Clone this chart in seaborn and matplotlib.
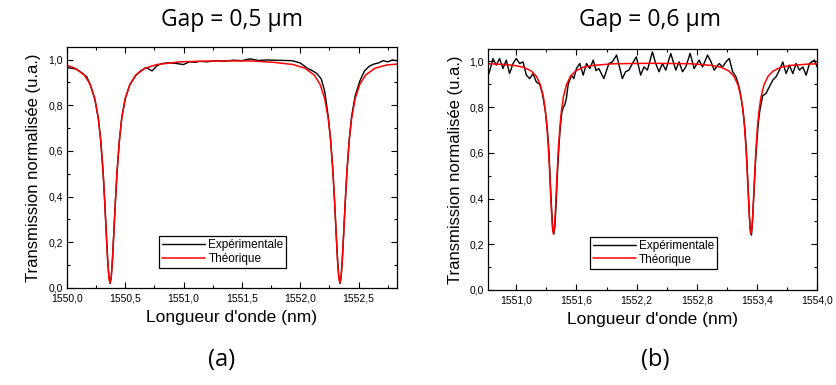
import numpy as np
import pandas as pd
import matplotlib
matplotlib.use("Agg")
import matplotlib.pyplot as plt
from matplotlib.ticker import MultipleLocator, FuncFormatter
import seaborn as sns

# ---- panel (a) : gap = 0,5 um ----
wl_exp_a = [1550.00, 1550.04, 1550.08, 1550.12, 1550.17, 1550.20, 1550.24, 1550.27, 1550.29,
            1550.31, 1550.325, 1550.34, 1550.35, 1550.36, 1550.37, 1550.38, 1550.39, 1550.40,
            1550.415, 1550.43, 1550.45, 1550.47, 1550.50, 1550.54, 1550.59, 1550.63, 1550.68,
            1550.73, 1550.77, 1550.81, 1550.86, 1550.92, 1551.00, 1551.05, 1551.10, 1551.14,
            1551.20, 1551.28, 1551.35, 1551.43, 1551.50, 1551.57, 1551.64, 1551.71, 1551.79,
            1551.86, 1551.93, 1552.00, 1552.06, 1552.10, 1552.14, 1552.18, 1552.21, 1552.24,
            1552.26, 1552.28, 1552.295, 1552.31, 1552.32, 1552.33, 1552.34, 1552.35, 1552.36,
            1552.37, 1552.385, 1552.40, 1552.42, 1552.44, 1552.47, 1552.51, 1552.55, 1552.59,
            1552.63, 1552.67, 1552.71, 1552.75, 1552.79, 1552.83]
tr_exp_a = [0.965, 0.962, 0.958, 0.945, 0.925, 0.89, 0.825, 0.74, 0.645,
            0.51, 0.37, 0.215, 0.12, 0.05, 0.02, 0.045, 0.12, 0.22,
            0.37, 0.51, 0.645, 0.745, 0.83, 0.89, 0.93, 0.95, 0.965,
            0.95, 0.972, 0.982, 0.985, 0.984, 0.978, 0.99, 0.988, 0.992,
            0.99, 0.995, 0.993, 0.997, 0.995, 1.003, 0.996, 0.998, 0.997,
            0.996, 0.995, 0.985, 0.962, 0.952, 0.94, 0.915, 0.86, 0.75,
            0.65, 0.51, 0.37, 0.215, 0.12, 0.05, 0.02, 0.05, 0.12,
            0.22, 0.37, 0.51, 0.65, 0.75, 0.84, 0.905, 0.95, 0.97,
            0.98, 0.985, 0.995, 0.99, 0.998, 0.995]

wl_th_a = [1550.00, 1550.07, 1550.15, 1550.20, 1550.24, 1550.27, 1550.29, 1550.31, 1550.325,
           1550.34, 1550.35, 1550.36, 1550.37, 1550.38, 1550.39, 1550.40, 1550.415, 1550.43,
           1550.45, 1550.47, 1550.50, 1550.54, 1550.59, 1550.67, 1550.77, 1550.97, 1551.17,
           1551.37, 1551.57, 1551.77, 1551.94, 1552.04, 1552.12, 1552.17, 1552.21, 1552.24,
           1552.26, 1552.28, 1552.295, 1552.31, 1552.32, 1552.33, 1552.34, 1552.35, 1552.36,
           1552.37, 1552.385, 1552.40, 1552.42, 1552.44, 1552.47, 1552.51, 1552.56, 1552.64,
           1552.74, 1552.85]
tr_th_a = [0.975, 0.962, 0.932, 0.891, 0.828, 0.741, 0.647, 0.51, 0.373,
           0.216, 0.118, 0.047, 0.02, 0.047, 0.118, 0.216, 0.373, 0.51,
           0.647, 0.741, 0.828, 0.891, 0.932, 0.962, 0.978, 0.99, 0.993,
           0.994, 0.994, 0.988, 0.978, 0.962, 0.932, 0.891, 0.828, 0.741,
           0.647, 0.51, 0.373, 0.216, 0.118, 0.047, 0.02, 0.047, 0.118,
           0.216, 0.373, 0.51, 0.647, 0.741, 0.828, 0.891, 0.932, 0.962,
           0.976, 0.981]

# ---- panel (b) : gap = 0,6 um ----
wl_exp_b = [1550.72, 1550.733, 1550.767, 1550.80, 1550.833, 1550.867, 1550.90, 1550.933, 1550.967,
            1551.00, 1551.033, 1551.067, 1551.10, 1551.133, 1551.167, 1551.20, 1551.233, 1551.26,
            1551.29, 1551.31, 1551.325, 1551.34, 1551.355, 1551.365, 1551.375, 1551.385, 1551.395,
            1551.41, 1551.425, 1551.44, 1551.455, 1551.47, 1551.483, 1551.50, 1551.517, 1551.55,
            1551.573, 1551.60, 1551.633, 1551.667, 1551.70, 1551.733, 1551.767, 1551.795, 1551.823,
            1551.873, 1551.923, 1551.957, 1552.00, 1552.057, 1552.09, 1552.123, 1552.157, 1552.197,
            1552.24, 1552.273, 1552.307, 1552.357, 1552.39, 1552.423, 1552.457, 1552.49, 1552.54,
            1552.59, 1552.623, 1552.657, 1552.69, 1552.733, 1552.773, 1552.823, 1552.857, 1552.907,
            1552.94, 1552.973, 1553.023, 1553.057, 1553.09, 1553.123, 1553.157, 1553.19, 1553.21,
            1553.23, 1553.26, 1553.28, 1553.295, 1553.31, 1553.325, 1553.335, 1553.345, 1553.355,
            1553.37, 1553.385, 1553.40, 1553.415, 1553.43, 1553.457, 1553.49, 1553.523, 1553.557,
            1553.59, 1553.623, 1553.657, 1553.69, 1553.723, 1553.757, 1553.79, 1553.823, 1553.857,
            1553.89, 1553.923, 1553.973, 1554.00]
tr_exp_b = [0.94, 0.955, 1.013, 0.984, 1.013, 0.969, 1.006, 0.947, 0.991,
            1.013, 0.991, 0.998, 0.94, 0.925, 0.947, 0.91, 0.90, 0.86,
            0.78, 0.70, 0.61, 0.46, 0.33, 0.26, 0.245, 0.28, 0.36,
            0.51, 0.63, 0.72, 0.78, 0.80, 0.81, 0.84, 0.90, 0.94,
            0.925, 0.969, 0.991, 0.94, 0.991, 0.969, 1.006, 0.96, 0.969,
            0.925, 0.991, 0.998, 1.028, 0.925, 0.955, 0.962, 0.991, 1.02,
            0.94, 0.976, 0.962, 1.042, 0.991, 0.955, 0.991, 0.962, 1.035,
            0.962, 0.998, 0.955, 0.976, 1.035, 0.969, 1.006, 0.976, 1.028,
            1.0, 0.962, 0.991, 0.976, 0.998, 1.013, 0.955, 0.933, 0.905,
            0.87, 0.79, 0.70, 0.60, 0.46, 0.32, 0.25, 0.24, 0.30,
            0.43, 0.56, 0.66, 0.74, 0.79, 0.85, 0.86, 0.889, 0.918,
            0.933, 0.962, 0.998, 0.947, 0.984, 0.947, 0.991, 0.962, 0.976,
            0.94, 0.991, 1.006, 0.976]

wl_th_b = [1550.72, 1550.87, 1550.97, 1551.07, 1551.15, 1551.20, 1551.24, 1551.27, 1551.29,
           1551.305, 1551.32, 1551.33, 1551.34, 1551.35, 1551.36, 1551.37, 1551.38, 1551.39,
           1551.40, 1551.41, 1551.42, 1551.435, 1551.45, 1551.47, 1551.50, 1551.54, 1551.59,
           1551.67, 1551.77, 1551.97, 1552.35, 1552.74, 1552.94, 1553.04, 1553.12, 1553.17,
           1553.21, 1553.24, 1553.26, 1553.275, 1553.29, 1553.30, 1553.31, 1553.32, 1553.33,
           1553.34, 1553.35, 1553.36, 1553.37, 1553.38, 1553.39, 1553.405, 1553.42, 1553.44,
           1553.47, 1553.51, 1553.56, 1553.64, 1553.74, 1553.90, 1554.00]
tr_th_b = [0.99, 0.987, 0.983, 0.975, 0.958, 0.935, 0.898, 0.845, 0.784,
           0.716, 0.62, 0.538, 0.444, 0.348, 0.274, 0.245, 0.274, 0.348,
           0.444, 0.538, 0.62, 0.716, 0.784, 0.845, 0.898, 0.935, 0.958,
           0.975, 0.983, 0.99, 0.992, 0.99, 0.983, 0.975, 0.958, 0.935,
           0.898, 0.845, 0.784, 0.716, 0.62, 0.538, 0.444, 0.348, 0.274,
           0.245, 0.274, 0.348, 0.444, 0.538, 0.62, 0.716, 0.784, 0.845,
           0.898, 0.935, 0.958, 0.975, 0.983, 0.988, 0.99]

titles = ["Gap = 0,5 µm", "Gap = 0,6 µm"]
panel_tags = ["(a)", "(b)"]
label_exp = "Expérimentale"
label_th = "Théorique"

sns.set_style("ticks")
narrow = ["Liberation Sans Narrow", "Liberation Sans", "DejaVu Sans"]
plt.rcParams["font.family"] = narrow
plt.rcParams["text.color"] = "black"
plt.rcParams["axes.labelcolor"] = "black"


def comma(v, pos):
    return f"{v:.1f}".replace(".", ",")


def make_panel(ax, wl_e, tr_e, wl_t, tr_t, xlim, xmajor, legend_xy):
    exp = pd.DataFrame({"wl": wl_e, "T": tr_e})
    th = pd.DataFrame({"wl": wl_t, "T": tr_t})
    sns.lineplot(data=exp, x="wl", y="T", ax=ax, color="black", lw=1.0, label=label_exp)
    sns.lineplot(data=th, x="wl", y="T", ax=ax, color="red", lw=1.1, label=label_th)
    ax.set_xlim(*xlim)
    ax.set_ylim(0, 1.055)
    ax.xaxis.set_major_locator(MultipleLocator(xmajor))
    ax.xaxis.set_minor_locator(MultipleLocator(xmajor / 2))
    ax.yaxis.set_major_locator(MultipleLocator(0.2))
    ax.yaxis.set_minor_locator(MultipleLocator(0.1))
    ax.xaxis.set_major_formatter(FuncFormatter(comma))
    ax.yaxis.set_major_formatter(FuncFormatter(comma))
    ax.tick_params(which="both", direction="in", top=True, right=True, width=0.8,
                   labelsize=7.5, colors="black")
    ax.tick_params(axis="x", pad=4)
    ax.tick_params(axis="y", pad=3)
    ax.tick_params(which="major", length=4)
    ax.tick_params(which="minor", length=2)
    for sp in ax.spines.values():
        sp.set_color("black")
        sp.set_linewidth(0.9)
    ax.set_xlabel("Longueur d'onde (nm)", fontsize=12.5, labelpad=5)
    ax.set_ylabel("Transmission normalisée (u.a.)", fontsize=12, labelpad=5)
    leg = ax.legend(loc="upper left", bbox_to_anchor=legend_xy, fontsize=8.5,
                    frameon=True, fancybox=False, edgecolor="black", framealpha=1,
                    handlelength=3.6, handletextpad=0.3, borderpad=0.25,
                    labelspacing=0.15, borderaxespad=0)
    leg.get_frame().set_linewidth(0.9)


fig = plt.figure(figsize=(8.36, 3.85), dpi=100)
ax_a = fig.add_axes([0.080, 0.252, 0.395, 0.626])
ax_b = fig.add_axes([0.584, 0.247, 0.3935, 0.626])

make_panel(ax_a, wl_exp_a, tr_exp_a, wl_th_a, tr_th_a, (1550.0, 1552.83), 0.5, (0.28, 0.216))
make_panel(ax_b, wl_exp_b, tr_exp_b, wl_th_b, tr_th_b, (1550.72, 1554.0), 0.6, (0.31, 0.22))

title_font = ["Open Sans", "DejaVu Sans"]
fig.text(232 / 836, 1 - 20 / 385, titles[0], ha="center", va="center", fontsize=16.5, family=title_font)
fig.text(650 / 836, 1 - 20 / 385, titles[1], ha="center", va="center", fontsize=16.5, family=title_font)
fig.text(222 / 836, 1 - 360 / 385, panel_tags[0], ha="center", va="center", fontsize=17, family=title_font)
fig.text(655 / 836, 1 - 360 / 385, panel_tags[1], ha="center", va="center", fontsize=17, family=title_font)

fig.savefig("out.png", dpi=100)
